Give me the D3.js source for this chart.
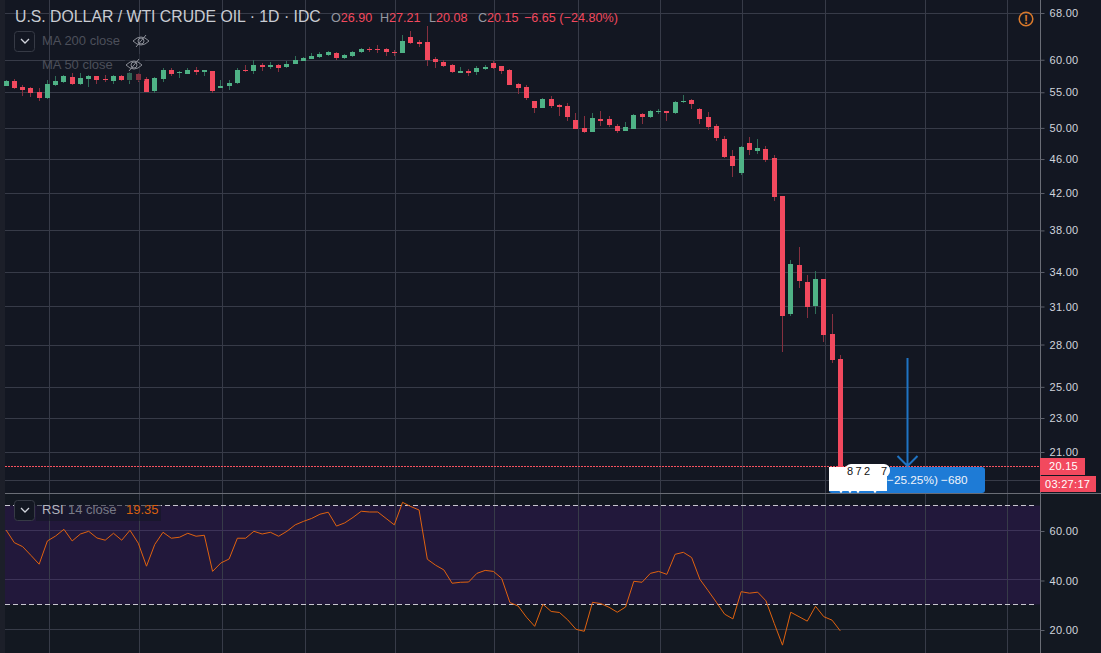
<!DOCTYPE html>
<html>
<head>
<meta charset="utf-8">
<script src="https://cdn.jsdelivr.net/npm/d3@7"></script>
<style>
  html, body { margin: 0; padding: 0; background: #131722; overflow: hidden; }
  text { font-family: "Liberation Sans", sans-serif; }
  .tick text { font-size: 11px; fill: #d1d4dc; letter-spacing: 0.3px; }
</style>
</head>
<body>
<div id="graphic"></div>
<script>
// Daily candles
const open = [55.94,56.68,55.79,55.64,55.05,54.17,56.08,56.53,57.29,56.23,56.98,57.45,56.98,56.68,57.45,56.83,57.75,56.98,55.19,56.98,58.37,57.91,57.75,58.37,58.06,58.22,55.64,55.94,56.38,58.37,58.22,59.16,58.85,59.16,58.85,59.32,59.80,60.12,60.45,60.77,61.10,60.29,60.61,61.26,61.76,61.76,61.76,61.26,61.10,63.77,62.93,62.93,60.12,59.64,59.16,57.91,58.22,58.06,58.53,59.48,59.01,58.37,56.23,55.79,53.74,52.74,54.03,53.17,53.03,51.07,49.99,49.46,51.21,51.21,50.26,49.59,49.86,51.90,51.49,52.18,52.32,52.04,53.60,53.88,52.60,51.49,50.26,48.54,46.38,44.31,48.03,47.00,47.26,46.13,41.66,30.38,34.64,33.09,31.04,33.36,28.80,26.90];
const high = [56.83,56.98,56.08,55.79,55.64,56.83,57.45,57.60,57.91,57.91,57.60,57.45,57.60,57.60,57.60,58.06,57.91,57.29,57.29,58.69,58.69,58.22,58.69,58.85,58.37,58.22,56.83,56.83,58.69,59.16,59.96,59.48,59.64,59.32,59.80,60.61,60.45,61.10,61.26,61.43,61.26,60.94,61.43,61.93,62.09,62.43,61.93,61.59,64.11,64.80,63.26,65.67,60.45,59.96,59.32,58.85,58.53,59.01,59.16,59.80,59.01,58.53,56.38,56.08,53.74,54.17,54.46,53.31,53.45,52.04,51.63,52.04,52.32,51.63,50.53,50.80,51.90,52.04,52.46,52.60,52.32,53.74,54.61,54.03,52.74,52.18,50.53,48.93,47.13,47.64,48.80,48.54,47.64,46.50,41.66,35.11,36.35,33.73,34.09,33.36,30.38,27.21];
const low = [55.94,55.49,54.46,54.32,53.74,54.03,55.94,56.38,56.08,56.08,55.79,56.23,56.53,56.23,56.68,56.23,56.53,55.05,54.90,56.53,57.45,57.14,57.75,57.60,57.45,54.90,55.64,55.34,56.23,58.06,57.75,58.22,58.53,58.06,58.69,59.32,59.80,60.12,60.29,60.61,59.96,60.12,60.45,61.10,61.26,61.10,60.61,60.61,61.10,62.59,62.09,59.01,58.69,58.85,57.91,57.91,57.45,57.60,58.37,58.53,57.75,56.08,54.76,53.88,52.04,52.74,52.74,51.63,50.94,49.86,49.33,49.46,50.26,50.13,49.33,49.59,49.86,50.53,51.35,51.90,50.94,51.90,53.45,52.60,50.53,49.72,48.28,46.13,43.84,44.07,46.50,46.63,45.64,41.11,27.44,30.22,32.57,30.06,30.38,28.19,26.65,20.08];
const close = [56.68,55.64,55.34,54.90,54.17,56.23,56.68,57.45,56.23,57.14,57.45,56.83,56.83,57.45,56.83,57.91,56.83,55.05,57.14,58.37,57.75,58.06,58.37,58.06,58.37,55.19,55.94,56.38,58.37,58.22,59.16,58.85,59.16,58.69,59.32,59.96,60.29,60.61,60.94,61.26,60.29,60.77,61.26,61.76,61.59,61.59,61.26,61.10,63.09,62.76,62.59,59.96,59.64,59.01,58.06,58.22,57.91,58.69,58.85,58.69,58.22,56.08,55.64,54.17,52.74,54.03,53.03,52.89,51.49,49.86,49.46,51.35,50.94,50.40,49.59,50.13,51.77,51.49,52.32,52.32,52.04,53.60,53.74,53.31,51.21,50.13,48.67,46.25,45.15,47.51,47.13,47.39,45.88,41.55,30.22,34.74,33.18,30.96,33.36,28.72,26.86,20.15];

// RSI 14 close, one value per candle
const rsi = [60.1,55.0,53.4,49.9,46.3,55.7,57.7,60.4,55.7,58.5,59.6,56.9,56.0,58.8,56.0,60.0,54.8,45.5,54.3,59.2,56.8,57.2,58.8,57.6,58.0,43.4,46.8,48.4,56.8,56.8,59.6,58.5,59.2,57.6,59.6,62.2,63.6,64.8,66.5,67.3,61.7,63.0,65.2,67.7,67.4,67.4,64.8,62.2,71.3,69.6,68.2,48.3,45.9,44.0,38.6,39.0,39.1,42.6,43.8,43.4,40.6,30.8,29.4,24.9,21.2,30.1,27.2,26.8,23.8,20.0,19.2,30.9,30.4,28.9,26.9,29.0,39.4,39.0,42.6,43.4,42.2,50.3,51.1,49.0,40.2,35.6,30.9,26.1,24.2,35.2,34.6,35.0,31.5,22.4,13.6,26.9,25.1,23.3,29.3,25.1,23.7,19.35];

const priceTicks = [68, 60, 55, 50, 46, 42, 38, 34, 31, 28, 25, 23, 21];
const priceGridOnly = [19.5];
const rsiTicks = [60, 40, 20];
const rsiBand = [70, 30];
const dateGrid = [5.16, 16.1, 26.15, 36.2, 47.1, 59.1, 69.2, 79.2, 89.1, 99.2, 111.2, 121.2];
const lastPrice = 20.15;
const arrowFrom = 27.0;
const arrowAt = 109.1;

const W = 1101, H = 653, axisX = 1040.5, paneY = 493.5;
const red = "#f2495e", green = "#4fb286";
const gridColor = "#373b48";

const svg = d3.select("#graphic").append("svg")
  .attr("width", W).attr("height", H)
  .style("display", "block");

svg.append("rect").attr("width", W).attr("height", H).attr("fill", "#131722");
svg.append("rect").attr("y", paneY).attr("width", W).attr("height", H - paneY).attr("fill", "#131821");
svg.append("rect").attr("width", 5).attr("height", H).attr("fill", "#1c1f29");

// scales
const x = d3.scaleLinear().domain([0, 101]).range([6.1, 840.3]);
const y = d3.scaleLog().domain([68, 21]).range([13, 452]);
const yRsi = d3.scaleLinear().domain([60, 20]).range([530.3, 629.3]);

// keeps 1px lines sharp
const crisp = v => Math.round(v) + 0.5;
const crispRsi = v => Math.floor(yRsi(v)) + 0.5;

// rsi band under the grid
svg.append("rect")
  .attr("x", 5).attr("width", axisX - 5)
  .attr("y", crispRsi(rsiBand[0])).attr("height", crispRsi(rsiBand[1]) - crispRsi(rsiBand[0]))
  .attr("fill", "#22183b");

// grid
svg.append("g").selectAll("line").data(dateGrid).join("line")
  .attr("x1", d => crisp(x(d))).attr("x2", d => crisp(x(d)))
  .attr("y1", 0).attr("y2", H)
  .attr("stroke", gridColor);

svg.append("g").selectAll("line").data(priceTicks.concat(priceGridOnly)).join("line")
  .attr("x1", 5).attr("x2", axisX)
  .attr("y1", d => crisp(y(d))).attr("y2", d => crisp(y(d)))
  .attr("stroke", gridColor);

svg.append("g").selectAll("line").data(rsiTicks).join("line")
  .attr("x1", 5).attr("x2", axisX)
  .attr("y1", d => crispRsi(d)).attr("y2", d => crispRsi(d))
  .attr("stroke", d => d === 20 ? gridColor : "#3d3358");

// rsi limits
svg.append("g").selectAll("line").data(rsiBand).join("line")
  .attr("x1", 5).attr("x2", axisX - 5)
  .attr("y1", d => crispRsi(d)).attr("y2", d => crispRsi(d))
  .attr("stroke", "#c8c6d0").attr("stroke-dasharray", "5 3");

// candles
const candles = d3.range(open.length);
const isUp = i => close[i] >= open[i];

svg.append("g").selectAll("line").data(candles).join("line")
  .attr("x1", i => crisp(x(i) - 0.5)).attr("x2", i => crisp(x(i) - 0.5))
  .attr("y1", i => Math.round(y(high[i]))).attr("y2", i => Math.round(y(low[i])))
  .attr("stroke", i => isUp(i) ? "#2f6e58" : "#85303f")
  .attr("stroke-width", 1);

svg.append("g").selectAll("rect").data(candles).join("rect")
  .attr("x", i => crisp(x(i) - 0.5) - 2.5)
  .attr("width", 5)
  .attr("y", i => Math.round(y(Math.max(open[i], close[i]))))
  .attr("height", i => Math.max(1, Math.round(y(Math.min(open[i], close[i]))) - Math.round(y(Math.max(open[i], close[i])))))
  .attr("fill", i => isUp(i) ? green : red);

// rsi line
svg.append("path")
  .datum(rsi)
  .attr("fill", "none")
  .attr("stroke", "#e0620f")
  .attr("stroke-width", 1)
  .attr("d", d3.line().x((d, i) => x(i)).y(d => yRsi(d)));

// last price line
svg.append("line")
  .attr("x1", 5).attr("x2", axisX)
  .attr("y1", 466.5).attr("y2", 466.5)
  .attr("stroke", "#f7525f").attr("stroke-dasharray", "2 1");

// measure label with the white blotch on it
svg.append("rect")
  .attr("x", 829).attr("y", 467).attr("width", 156).attr("height", 26).attr("rx", 3)
  .attr("fill", "#1e7bd6");
svg.append("rect")
  .attr("x", 829).attr("y", 467).attr("width", 58).attr("height", 24)
  .attr("fill", "#ffffff");
svg.append("rect")
  .attr("x", 845).attr("y", 464).attr("width", 45).attr("height", 13).attr("rx", 6)
  .attr("fill", "#ffffff");
svg.append("g").selectAll("circle").data([841, 850, 858, 875]).join("circle")
  .attr("cx", d => d).attr("cy", 491.5).attr("r", 1.2).attr("fill", "#ffffff");
svg.append("g").selectAll("text").data([[850, "8"], [858.5, "7"], [867, "2"], [884, "7"]]).join("text")
  .attr("x", d => d[0]).attr("y", 474.5)
  .attr("text-anchor", "middle")
  .attr("font-size", 11).attr("fill", "#111111")
  .text(d => d[1]);
svg.append("text")
  .attr("x", 887).attr("y", 484)
  .attr("font-size", 11.8).attr("fill", "#f0f3fa")
  .text("\u221225.25%) \u2212680");

// arrow
const ax = crisp(x(arrowAt)), ay = 466;
svg.append("path")
  .attr("d", `M${ax},${y(arrowFrom)}V${ay}M${ax - 10},${ay - 10}L${ax},${ay}L${ax + 10},${ay - 10}`)
  .attr("fill", "none").attr("stroke", "#1f74c4").attr("stroke-width", 2);

// axes
svg.append("line").attr("x1", axisX).attr("x2", axisX).attr("y1", 0).attr("y2", H).attr("stroke", "#6a6d76");
svg.append("line").attr("x1", 5).attr("x2", W).attr("y1", paneY).attr("y2", paneY).attr("stroke", "#6a6d76");

const styleAxis = g => {
  g.select(".domain").remove();
  g.selectAll(".tick line").attr("stroke", "#5d606b");
};
svg.append("g")
  .attr("transform", `translate(${axisX},0)`)
  .call(d3.axisRight(y).tickValues(priceTicks).tickFormat(d3.format(".2f")).tickSize(4).tickPadding(5))
  .call(styleAxis);
svg.append("g")
  .attr("transform", `translate(${axisX},0.7)`)
  .call(d3.axisRight(yRsi).tickValues(rsiTicks).tickFormat(d3.format(".2f")).tickSize(4).tickPadding(5))
  .call(styleAxis);

// last price tags
svg.append("rect").attr("x", 1040).attr("y", 458).attr("width", 45).attr("height", 17).attr("fill", red);
svg.append("text").attr("x", 1049).attr("y", 470)
  .attr("font-size", 11).attr("fill", "#ffffff").attr("letter-spacing", 0.3)
  .text(d3.format(".2f")(lastPrice));
svg.append("rect").attr("x", 1040).attr("y", 476).attr("width", 56).attr("height", 16).attr("fill", red);
svg.append("text").attr("x", 1045).attr("y", 488)
  .attr("font-size", 11).attr("fill", "#ffffff").attr("letter-spacing", 0.3)
  .text("03:27:17");

// header
svg.append("text").attr("x", 15).attr("y", 22)
  .attr("font-size", 15.8).attr("fill", "#c9ccd3")
  .text("U.S. DOLLAR / WTI CRUDE OIL \u00b7 1D \u00b7 IDC");

const ohlc = [
  [331, "O", open[101]], [380, "H", high[101]], [429, "L", low[101]], [478, "C", close[101]]
];
const ohlcText = svg.append("g").selectAll("text").data(ohlc).join("text")
  .attr("x", d => d[0]).attr("y", 22).attr("font-size", 12.6);
ohlcText.append("tspan").attr("fill", "#9598a1").text(d => d[1]);
ohlcText.append("tspan").attr("fill", red).text(d => d3.format(".2f")(d[2]));
svg.append("text").attr("x", 524).attr("y", 22)
  .attr("font-size", 12.6).attr("fill", red)
  .text("\u22126.65 (\u221224.80%)");

// legend buttons
const chevron = (cx, cy) => {
  svg.append("path")
    .attr("d", `M${cx - 4},${cy - 2}L${cx},${cy + 2}L${cx + 4},${cy - 2}`)
    .attr("fill", "none").attr("stroke", "#d1d4dc").attr("stroke-width", 1.3);
};
const eye = (cx, cy) => {
  const g = svg.append("g").attr("transform", `translate(${cx},${cy})`)
    .attr("fill", "none").attr("stroke", "#8a8d96").attr("stroke-width", 1);
  g.append("path").attr("d", "M-8,0Q0,-8 8,0Q0,8 -8,0Z");
  g.append("circle").attr("r", 3);
  g.append("path").attr("d", "M-5,6L5,-6");
};

svg.append("rect").attr("x", 14.5).attr("y", 31.5).attr("width", 20).attr("height", 20).attr("rx", 3)
  .attr("fill", "#131722").attr("stroke", "#363a45");
chevron(25, 41);
svg.append("text").attr("x", 42).attr("y", 45)
  .attr("font-size", 13).attr("fill", "#4c4f5a").text("MA 200 close");
eye(141, 41);

svg.append("rect").attr("x", 125).attr("y", 54).attr("width", 20).attr("height", 27)
  .attr("fill", "#131722").attr("fill-opacity", 0.5);
svg.append("text").attr("x", 42).attr("y", 69)
  .attr("font-size", 13).attr("fill", "#4c4f5a").text("MA 50 close");
eye(134, 65);

svg.append("rect").attr("x", 36).attr("y", 500).attr("width", 125).attr("height", 21)
  .attr("fill", "#131722").attr("fill-opacity", 0.55);
svg.append("rect").attr("x", 14.5).attr("y", 500.5).attr("width", 20).attr("height", 20).attr("rx", 3)
  .attr("fill", "#131722").attr("stroke", "#363a45");
chevron(25, 510);
svg.append("text").attr("x", 42).attr("y", 514).attr("font-size", 13).attr("fill", "#b2b5be").text("RSI");
svg.append("text").attr("x", 68).attr("y", 514).attr("font-size", 13).attr("fill", "#787b86").text("14 close");
svg.append("text").attr("x", 126).attr("y", 514).attr("font-size", 13).attr("fill", "#d8600f")
  .text(d3.format(".2f")(rsi[rsi.length - 1]));

// warning icon
svg.append("circle").attr("cx", 1026).attr("cy", 19).attr("r", 6.8)
  .attr("fill", "none").attr("stroke", "#d9792b").attr("stroke-width", 1.5);
svg.append("text").attr("x", 1026).attr("y", 23.5).attr("text-anchor", "middle")
  .attr("font-size", 12).attr("font-weight", "bold").attr("fill", "#d9792b").text("!");
</script>
</body>
</html>
